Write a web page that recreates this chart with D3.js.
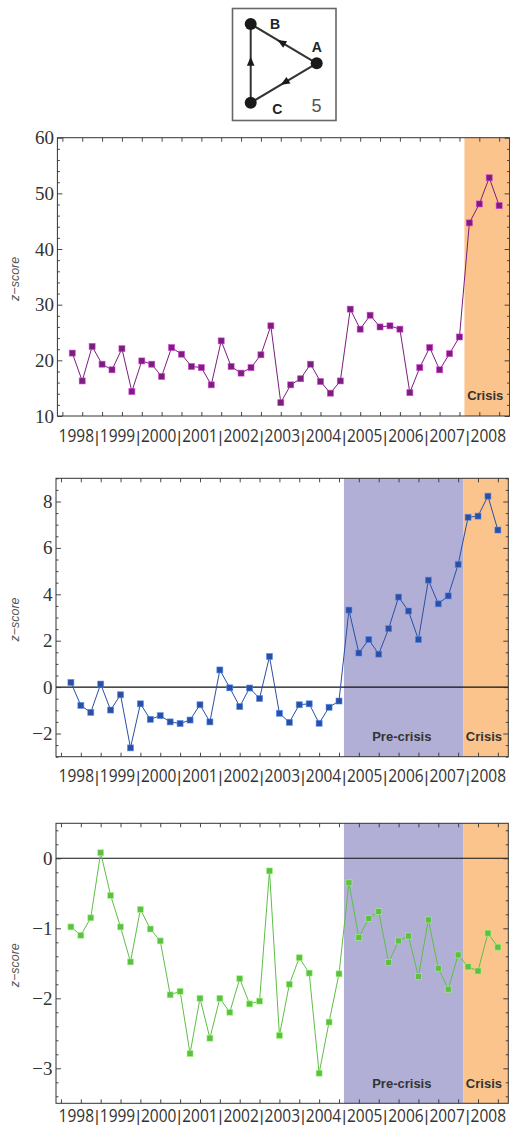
<!DOCTYPE html>
<html>
<head>
<meta charset="utf-8">
<script src="https://cdn.jsdelivr.net/npm/d3@7"></script>
<style>
  body { margin: 0; background: #fff; }
  svg { display: block; }
</style>
</head>
<body>
<svg id="chart" width="510" height="1127"></svg>
<script>
var years = ['1998', '1999', '2000', '2001', '2002', '2003', '2004', '2005', '2006', '2007', '2008']
var quarterNames = ['Q1', 'Q2', 'Q3', 'Q4']

// z-scores of motif 5, one value per quarter, 1998Q1 .. 2008Q4
var purpleScores = [21.3, 16.3, 22.5, 19.3, 18.3, 22.1, 14.4, 19.9, 19.3, 17.1,
  22.3, 21.1, 18.9, 18.7, 15.6, 23.5, 18.9, 17.7, 18.7, 21.0,
  26.2, 12.4, 15.6, 16.7, 19.3, 16.2, 14.1, 16.3, 29.2, 25.6,
  28.1, 26.0, 26.2, 25.6, 14.2, 18.7, 22.3, 18.3, 21.2, 24.2,
  44.7, 48.1, 52.8, 47.8]
var blueScores = [0.20, -0.79, -1.09, 0.13, -0.99, -0.33, -2.62, -0.72, -1.39, -1.23,
  -1.50, -1.57, -1.42, -0.76, -1.50, 0.74, -0.03, -0.84, -0.04, -0.49,
  1.32, -1.13, -1.52, -0.76, -0.72, -1.56, -0.87, -0.60, 3.32, 1.47,
  2.05, 1.42, 2.52, 3.88, 3.28, 2.05, 4.61, 3.59, 3.93, 5.29,
  7.32, 7.37, 8.23, 6.77]
var greenScores = [-0.98, -1.10, -0.85, 0.08, -0.53, -0.98, -1.48, -0.73, -1.01, -1.18,
  -1.95, -1.90, -2.79, -2.00, -2.57, -2.00, -2.20, -1.72, -2.08, -2.04,
  -0.18, -2.53, -1.80, -1.42, -1.64, -3.07, -2.34, -1.65, -0.35, -1.13,
  -0.86, -0.76, -1.49, -1.18, -1.11, -1.69, -0.88, -1.57, -1.87, -1.38,
  -1.55, -1.61, -1.07, -1.27]

var preCrisis = ['2005Q1', '2007Q4']
var crisis = ['2008Q1', '2008Q4']

var purpleTicks = [10, 20, 30, 40, 50, 60]
var blueTicks = [-2, 0, 2, 4, 6, 8]
var greenTicks = [-3, -2, -1, 0]

var quarters = []
years.forEach(function (y) {
  quarterNames.forEach(function (q) { quarters.push(y + q) })
})

var svg = d3.select('#chart')

class MotifPanel {
  constructor (opts) {
    this.opts = opts
    this.g = svg.append('g')
    this.x = d3.scaleLinear().domain([-1.5, 44.05]).range([opts.left, opts.right])
    this.y = d3.scaleLinear().domain(opts.domain).range([opts.bottom, opts.top])
  }

  render () {
    this.drawBands()
    if (this.opts.zeroLine) this.drawZero()
    this.drawSeries()
    this.drawAxes()
    this.drawYearLabels()
  }

  bandExtent (period) {
    var i0 = quarters.indexOf(period[0])
    var i1 = quarters.indexOf(period[1])
    var x1 = i1 === quarters.length - 1 ? this.x.range()[1] : this.x(i1 + 0.5)
    return [this.x(i0 - 0.5), x1]
  }

  drawBands () {
    var o = this.opts
    var self = this
    o.bands.forEach(function (b) {
      var ext = self.bandExtent(b.period)
      self.g.append('rect')
        .attr('x', ext[0]).attr('y', o.top)
        .attr('width', ext[1] - ext[0]).attr('height', o.bottom - o.top)
        .attr('fill', b.color)
      self.g.append('text')
        .text(b.label)
        .attr('x', b.label === 'Crisis' ? ext[0] + 20.8 : (ext[0] + ext[1]) / 2 - 1.7)
        .attr('y', o.bandLabelY)
        .attr('text-anchor', 'middle')
        .attr('font-family', 'Liberation Sans, Arial, sans-serif')
        .attr('font-weight', 'bold')
        .attr('font-size', 13)
        .attr('fill', '#333')
    })
  }

  drawZero () {
    this.g.append('line')
      .attr('x1', this.opts.left).attr('x2', this.opts.right)
      .attr('y1', this.y(0)).attr('y2', this.y(0))
      .attr('stroke', '#111').attr('stroke-width', 1.1)
  }

  drawSeries () {
    var x = this.x
    var y = this.y
    var o = this.opts
    var line = d3.line().x(function (d, i) { return x(i) }).y(function (d) { return y(d) })

    this.g.append('path')
      .datum(o.values)
      .attr('d', line)
      .attr('fill', 'none')
      .attr('stroke', o.color)
      .attr('stroke-width', 1)

    var s = 6
    this.g.selectAll('rect.pt')
      .data(o.values)
      .enter().append('rect')
      .attr('class', 'pt')
      .attr('x', function (d, i) { return x(i) - s / 2 })
      .attr('y', function (d) { return y(d) - s / 2 })
      .attr('width', s).attr('height', s)
      .attr('fill', o.color)
      .attr('stroke', d3.color(o.color).brighter(1.6))
      .attr('stroke-opacity', 0.7)
      .attr('stroke-width', 0.8)
  }

  drawAxes () {
    var o = this.opts
    var g = this.g
    var xTicks = d3.range(-1, quarters.length, 2)
    var lo = o.domain[0]
    var hi = o.domain[1]
    var minors = d3.range(Math.ceil(lo / o.minor - 1e-6), Math.floor(hi / o.minor + 1e-6) + 1)
      .map(function (k) { return +(k * o.minor).toFixed(4) })
      .filter(function (v) { return o.ticks.indexOf(v) < 0 })

    var styleAxis = function (sel) {
      sel.select('.domain').remove()
      sel.selectAll('line').attr('stroke', '#333').attr('stroke-width', 0.9)
    }

    g.append('g').attr('transform', 'translate(0,' + o.bottom + ')')
      .call(d3.axisBottom(this.x).tickValues(xTicks).tickSize(-4).tickFormat(''))
      .call(styleAxis)
    g.append('g').attr('transform', 'translate(0,' + o.top + ')')
      .call(d3.axisTop(this.x).tickValues(xTicks).tickSize(-4).tickFormat(''))
      .call(styleAxis)

    var left = g.append('g').attr('transform', 'translate(' + o.left + ',0)')
    left.call(d3.axisLeft(this.y).tickValues(o.ticks).tickSize(-5).tickPadding(3.5).tickFormat(d3.format('d')))
      .call(styleAxis)
    left.selectAll('text')
      .attr('font-family', 'Liberation Serif, Times New Roman, serif')
      .attr('font-size', 19)
      .attr('fill', '#333')
    g.append('g').attr('transform', 'translate(' + o.left + ',0)')
      .call(d3.axisLeft(this.y).tickValues(minors).tickSize(-2.5).tickFormat(''))
      .call(styleAxis)

    g.append('g').attr('transform', 'translate(' + o.right + ',0)')
      .call(d3.axisRight(this.y).tickValues(o.ticks).tickSize(-5).tickFormat(''))
      .call(styleAxis)
    g.append('g').attr('transform', 'translate(' + o.right + ',0)')
      .call(d3.axisRight(this.y).tickValues(minors).tickSize(-2.5).tickFormat(''))
      .call(styleAxis)

    g.append('rect')
      .attr('x', o.left).attr('y', o.top)
      .attr('width', o.right - o.left).attr('height', o.bottom - o.top)
      .attr('fill', 'none').attr('stroke', '#333').attr('stroke-width', 1)

    g.append('text')
      .text('z\u2212score')
      .attr('transform', 'translate(19,' + ((o.top + o.bottom) / 2 + 2) + ') rotate(-90)')
      .attr('text-anchor', 'middle')
      .attr('font-family', 'Liberation Sans, Arial, sans-serif')
      .attr('font-style', 'italic')
      .attr('font-size', 12.5)
      .attr('fill', '#555')
  }

  drawYearLabels () {
    var o = this.opts
    var lx = d3.scaleLinear().domain([0, years.length - 1]).range([76.3, 488.3])
    var step = lx(1) - lx(0)

    // one text per axis: years with thin bars between them
    var parts = []
    years.forEach(function (y, i) {
      if (i > 0) parts.push({ t: '|', x: lx(i) - step / 2, bar: true })
      parts.push({ t: y, x: lx(i), bar: false })
    })

    var text = this.g.append('text')
      .attr('class', 'years')
      .attr('transform', 'translate(0,' + o.labelY + ') scale(1,1.13)')
      .attr('fill', '#333')
      .attr('font-family', 'Open Sans, Liberation Sans, sans-serif')
      .attr('font-size', 15.5)

    text.selectAll('tspan')
      .data(parts)
      .enter().append('tspan')
      .text(function (d) { return d.t })
      .attr('x', function (d) { return d.x })
      .attr('y', function (d) { return d.bar ? 0.8 : 0 })
      .attr('text-anchor', 'middle')
      .attr('font-family', function (d) { return d.bar ? 'Liberation Sans, Arial, sans-serif' : null })
      .attr('font-size', function (d) { return d.bar ? 15 : null })
  }
}

function drawMotif () {
  var g = svg.append('g')
  var ink = '#1a1a1a'
  var nodes = { B: [250.7, 24], A: [316.7, 63.3], C: [250.7, 102.7] }
  var edges = [['A', 'B', 0.53], ['A', 'C', 0.48], ['C', 'B', 0.52]]

  g.append('rect')
    .attr('x', 232.5).attr('y', 8.5).attr('width', 103.5).attr('height', 112)
    .attr('fill', '#fff').attr('stroke', '#666').attr('stroke-width', 1.6)

  edges.forEach(function (e) {
    var a = nodes[e[0]]
    var b = nodes[e[1]]
    g.append('line')
      .attr('x1', a[0]).attr('y1', a[1]).attr('x2', b[0]).attr('y2', b[1])
      .attr('stroke', '#333').attr('stroke-width', 2)
    var px = a[0] + (b[0] - a[0]) * e[2]
    var py = a[1] + (b[1] - a[1]) * e[2]
    var ang = Math.atan2(b[1] - a[1], b[0] - a[0]) * 180 / Math.PI
    g.append('path')
      .attr('d', 'M5,0 L-4,-3.8 L-4,3.8 Z')
      .attr('transform', 'translate(' + px + ',' + py + ') rotate(' + ang + ')')
      .attr('fill', ink)
  })

  Object.keys(nodes).forEach(function (k) {
    g.append('circle')
      .attr('cx', nodes[k][0]).attr('cy', nodes[k][1]).attr('r', 6)
      .attr('fill', ink)
  })

  var labels = [['B', 275, 28.5], ['A', 316.7, 51.5], ['C', 277.3, 113.5]]
  labels.forEach(function (l) {
    g.append('text').text(l[0])
      .attr('x', l[1]).attr('y', l[2])
      .attr('text-anchor', 'middle')
      .attr('font-family', 'Liberation Sans, Arial, sans-serif')
      .attr('font-weight', 'bold')
      .attr('font-size', 14)
      .attr('fill', '#222')
  })
  g.append('text').text('5')
    .attr('x', 316.5).attr('y', 112)
    .attr('text-anchor', 'middle')
    .attr('font-family', 'Liberation Sans, Arial, sans-serif')
    .attr('font-size', 18)
    .attr('fill', '#555')
}

var lavender = '#b2afd7'
var peach = '#fbc48d'

drawMotif()

new MotifPanel({
  top: 137.7, bottom: 416, left: 57.4, right: 509.6,
  domain: [10, 60], ticks: purpleTicks, minor: 2,
  values: purpleScores, color: '#7a1f7c',
  bands: [{ period: crisis, color: peach, label: 'Crisis' }],
  bandLabelY: 399.5, labelY: 441.7, zeroLine: false
}).render()

new MotifPanel({
  top: 478.3, bottom: 756.7, left: 56, right: 508.3,
  domain: [-3, 9], ticks: blueTicks, minor: 0.5,
  values: blueScores, color: '#2b4fa2',
  bands: [{ period: preCrisis, color: lavender, label: 'Pre-crisis' },
    { period: crisis, color: peach, label: 'Crisis' }],
  bandLabelY: 740.5, labelY: 781.7, zeroLine: true
}).render()

new MotifPanel({
  top: 823.3, bottom: 1103.3, left: 56, right: 508.3,
  domain: [-3.5, 0.5], ticks: greenTicks, minor: 0.2,
  values: greenScores, color: '#5dbf45',
  bands: [{ period: preCrisis, color: lavender, label: 'Pre-crisis' },
    { period: crisis, color: peach, label: 'Crisis' }],
  bandLabelY: 1088, labelY: 1121.5, zeroLine: true
}).render()
</script>
</body>
</html>
